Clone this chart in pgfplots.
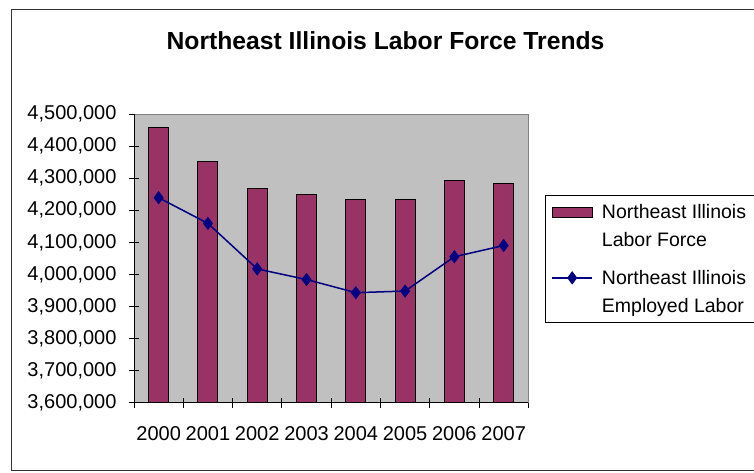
\documentclass[border=0pt]{standalone}
\usepackage{pgfplots}
\pgfplotsset{compat=1.18}
\usepackage{fontspec}
\setmainfont{Liberation Sans}
\definecolor{barc}{HTML}{993366}
\definecolor{linec}{HTML}{000080}
\definecolor{plotbg}{HTML}{C0C0C0}
\pgfplotsset{
  barlegend/.style={legend image code/.code={\draw[##1, line width=1pt] (0pt,9pt) rectangle (40pt,19pt); \path (47pt,14pt);}},
  linelegend/.style={legend image code/.code={\draw[mark repeat=2,mark phase=2,##1] plot coordinates {(0pt,14pt) (20pt,14pt) (40pt,14pt)}; \path (47pt,14pt);}},
}
\begin{document}
\begin{tikzpicture}[x=1pt,y=1pt]
\useasboundingbox (0,0) rectangle (754,473);
\draw[line width=1pt, black!80] (11,2) rectangle (770,463);
\node[font=\fontsize{24.7}{29}\selectfont\bfseries, anchor=base, inner sep=0pt] at (385.5,423) {Northeast Illinois Labor Force Trends};
\begin{axis}[
  at={(134pt,70.3pt)}, anchor=south west,
  scale only axis, width=394.3pt, height=288.7pt,
  xmin=-0.5, xmax=7.5, ymin=3600000, ymax=4500000,
  xtick={-0.5,0.5,1.5,2.5,3.5,4.5,5.5,6.5,7.5},
  xticklabels={2000,2001,2002,2003,2004,2005,2006,2007},
  x tick label as interval,
  ytick={3600000,3700000,3800000,3900000,4000000,4100000,4200000,4300000,4400000,4500000},
  xtick pos=bottom, ytick pos=left,
  scaled y ticks=false,
  /pgf/number format/.cd, fixed, 1000 sep={,}, assume math mode=true, /pgfplots/.cd,
  tick label style={font=\fontsize{20}{24}\selectfont},
  x tick label style={yshift=-15pt},
  y tick label style={xshift=-9pt},
  tick align=center, major tick length=10pt,
  tick style={black, line width=0.8pt},
  axis background/.style={fill=plotbg},
  axis line style={draw=gray, line width=0.8pt},
  legend style={at={(axis description cs:1.0424,0.7194)}, anchor=north west,
    draw=black, line width=0.8pt, font=\fontsize{19.5}{28}\selectfont,
    cells={align=left, anchor=west}, row sep=18pt, inner xsep=6pt, inner ysep=7pt},
]
\draw[black, line width=0.8pt] (rel axis cs:0,0) -- (rel axis cs:0,1);
\draw[black, line width=0.8pt] (rel axis cs:0,0) -- (rel axis cs:1,0);
\addplot[ybar, bar width=20pt, fill=barc, draw=black, line width=1pt, barlegend]
  coordinates {(0,4457000) (1,4352000) (2,4267000) (3,4250000) (4,4235000) (5,4235000) (6,4293000) (7,4283000)};
\addlegendentry{Northeast Illinois\\Labor Force}
\addplot[linec, line width=1.5pt, mark=diamond*, mark size=5.5pt, mark options={fill=linec, draw=linec}, linelegend]
  coordinates {(0,4239000) (1,4159000) (2,4017000) (3,3984000) (4,3943000) (5,3948000) (6,4055000) (7,4090000)};
\addlegendentry{Northeast Illinois\\Employed Labor}
\end{axis}
\end{tikzpicture}
\end{document}
